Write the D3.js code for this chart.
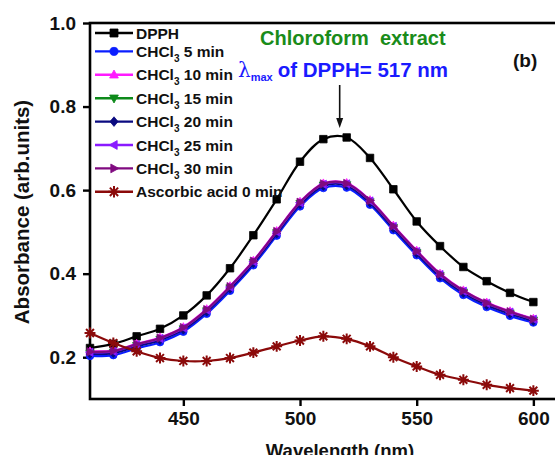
<!DOCTYPE html>
<html>
<head>
<meta charset="utf-8">
<script src="https://cdn.jsdelivr.net/npm/d3@7"></script>
<style>
  html, body { margin: 0; padding: 0; background: #fff; }
  svg { display: block; font-family: Arial, "Liberation Sans", sans-serif; }
</style>
</head>
<body>
<svg id="chart" width="555" height="466"></svg>
<script>
// Wavelengths sampled every 10 nm
const wavelengths = [410, 420, 430, 440, 450, 460, 470, 480, 490, 500,
                     510, 520, 530, 540, 550, 560, 570, 580, 590, 600];

// Absorbance series
const dpph      = [0.222, 0.232, 0.250, 0.268, 0.300, 0.348, 0.413, 0.492, 0.578, 0.668,
                   0.722, 0.726, 0.677, 0.602, 0.525, 0.466, 0.416, 0.382, 0.354, 0.332];
const chcl5     = [0.203, 0.205, 0.221, 0.236, 0.261, 0.304, 0.359, 0.420, 0.491, 0.561,
                   0.605, 0.606, 0.565, 0.504, 0.444, 0.389, 0.349, 0.320, 0.299, 0.283];
const chcl10    = [0.214, 0.216, 0.232, 0.247, 0.272, 0.315, 0.370, 0.431, 0.502, 0.572,
                   0.616, 0.617, 0.576, 0.515, 0.455, 0.400, 0.360, 0.331, 0.310, 0.292];
const chcl15    = [0.210, 0.212, 0.228, 0.243, 0.268, 0.311, 0.366, 0.427, 0.498, 0.568,
                   0.612, 0.613, 0.572, 0.511, 0.451, 0.396, 0.356, 0.327, 0.306, 0.289];
const chcl20    = [0.208, 0.210, 0.226, 0.241, 0.266, 0.309, 0.364, 0.425, 0.496, 0.566,
                   0.610, 0.611, 0.570, 0.509, 0.449, 0.394, 0.354, 0.325, 0.304, 0.287];
const chcl25    = [0.212, 0.214, 0.230, 0.245, 0.270, 0.313, 0.368, 0.429, 0.500, 0.570,
                   0.614, 0.615, 0.574, 0.513, 0.453, 0.398, 0.358, 0.329, 0.308, 0.291];
const chcl30    = [0.213, 0.215, 0.231, 0.246, 0.271, 0.314, 0.369, 0.430, 0.501, 0.571,
                   0.615, 0.616, 0.575, 0.514, 0.454, 0.399, 0.359, 0.330, 0.309, 0.291];
const ascorbic0 = [0.258, 0.234, 0.214, 0.198, 0.191, 0.191, 0.198, 0.211, 0.226, 0.240,
                   0.250, 0.244, 0.226, 0.200, 0.178, 0.158, 0.146, 0.134, 0.126, 0.120];

// Axis ticks
const xTicks = [450, 500, 550, 600];
const yTicks = [0.2, 0.4, 0.6, 0.8, 1.0];

const lambdaMax = 517;

// Series table (label parts: text before subscript, subscript, text after)
const series = [
  { pre: "DPPH", sub: "", post: "", values: dpph, color: "#000000", marker: "square" },
  { pre: "CHCl", sub: "3", post: " 5 min", values: chcl5, color: "#0a1eff", marker: "circle" },
  { pre: "CHCl", sub: "3", post: " 10 min", values: chcl10, color: "#ff1aff", marker: "triUp" },
  { pre: "CHCl", sub: "3", post: " 15 min", values: chcl15, color: "#0d8a1a", marker: "triDown" },
  { pre: "CHCl", sub: "3", post: " 20 min", values: chcl20, color: "#0a0a80", marker: "diamond" },
  { pre: "CHCl", sub: "3", post: " 25 min", values: chcl25, color: "#8a1aff", marker: "triLeft" },
  { pre: "CHCl", sub: "3", post: " 30 min", values: chcl30, color: "#800a80", marker: "triRight" },
  { pre: "Ascorbic acid 0 min", sub: "", post: "", values: ascorbic0, color: "#8b0a0a", marker: "star" }
];

const svg = d3.select("#chart");

const x = d3.scaleLinear().domain([410, 610]).range([90, 556.7]);
const y = d3.scaleLinear().domain([0.1, 1.0]).range([399, 23]);

// Marker shapes
function markerPath(type, s) {
  const h = s / 2;
  switch (type) {
    case "square":  return `M${-h},${-h}h${s}v${s}h${-s}Z`;
    case "circle":  return d3.symbol(d3.symbolCircle, s * s * 0.8)();
    case "triUp":   return `M0,${-h * 1.2}L${h * 1.1},${h * 0.8}L${-h * 1.1},${h * 0.8}Z`;
    case "triDown": return `M0,${h * 1.2}L${h * 1.1},${-h * 0.8}L${-h * 1.1},${-h * 0.8}Z`;
    case "triLeft": return `M${-h * 1.2},0L${h * 0.8},${-h * 1.1}L${h * 0.8},${h * 1.1}Z`;
    case "triRight":return `M${h * 1.2},0L${-h * 0.8},${-h * 1.1}L${-h * 0.8},${h * 1.1}Z`;
    case "diamond": return `M0,${-h * 1.2}L${h},0L0,${h * 1.2}L${-h},0Z`;
    case "star": {
      const r = h * 1.15, d = r * 0.72;
      return `M0,${-r}V${r}M${-r},0H${r}M${-d},${-d}L${d},${d}M${-d},${d}L${d},${-d}`;
    }
  }
}

function drawMarker(g, type, color, cx, cy, s) {
  const p = g.append("path")
    .attr("d", markerPath(type, s))
    .attr("transform", `translate(${cx},${cy})`);
  if (type === "star") {
    p.attr("fill", "none").attr("stroke", color).attr("stroke-width", 2);
  } else {
    p.attr("fill", color).attr("stroke", color).attr("stroke-width", 0.8);
  }
}

// Plot frame
svg.append("rect")
  .attr("x", x(410)).attr("y", y(1.0))
  .attr("width", x(610) - x(410)).attr("height", y(0.1) - y(1.0))
  .attr("fill", "none").attr("stroke", "#000").attr("stroke-width", 2.6);

// Y axis
const yAxis = svg.append("g")
  .attr("transform", `translate(${x(410)},0)`)
  .call(d3.axisLeft(y).tickValues(yTicks).tickSize(7).tickPadding(7)
        .tickFormat(d3.format(".1f")));
yAxis.select(".domain").remove();
yAxis.selectAll(".tick line").attr("stroke", "#000").attr("stroke-width", 2.4);
yAxis.selectAll(".tick text")
  .attr("font-size", "19px").attr("font-weight", "bold").attr("fill", "#111")
  .attr("font-family", "Arial, 'Liberation Sans', sans-serif");

// X axis
const xAxis = svg.append("g")
  .attr("transform", `translate(0,${y(0.1)})`)
  .call(d3.axisBottom(x).tickValues(xTicks).tickSize(7).tickPadding(6)
        .tickFormat(d3.format("d")));
xAxis.select(".domain").remove();
xAxis.selectAll(".tick line").attr("stroke", "#000").attr("stroke-width", 2.4);
xAxis.selectAll(".tick text")
  .attr("font-size", "19px").attr("font-weight", "bold").attr("fill", "#111")
  .attr("font-family", "Arial, 'Liberation Sans', sans-serif");

// Axis titles
svg.append("text")
  .attr("transform", `translate(29,212) rotate(-90)`)
  .attr("text-anchor", "middle")
  .attr("font-size", "20.5px").attr("font-weight", "bold").attr("fill", "#111")
  .text("Absorbance (arb.units)");

svg.append("clipPath").attr("id", "bottomClip")
  .append("rect").attr("x", 0).attr("y", 0).attr("width", 555).attr("height", 455);
svg.append("text")
  .attr("clip-path", "url(#bottomClip)")
  .attr("x", 340).attr("y", 456.5)
  .attr("text-anchor", "middle")
  .attr("font-size", "18.5px").attr("font-weight", "bold").attr("fill", "#111")
  .text("Wavelength (nm)");

// Curves and markers
const line = d3.line()
  .x((d, i) => x(wavelengths[i]))
  .y(d => y(d))
  .curve(d3.curveCatmullRom.alpha(0.5));

const plot = svg.append("g");
series.forEach(s => {
  plot.append("path")
    .attr("d", line(s.values))
    .attr("fill", "none")
    .attr("stroke", s.color)
    .attr("stroke-width", 2.2);
  const mg = plot.append("g");
  s.values.forEach((v, i) => drawMarker(mg, s.marker, s.color, x(wavelengths[i]), y(v),
                                       s.marker === "star" ? 9.5 : 7.5));
});

// Legend
const legend = svg.append("g");
series.forEach((s, i) => {
  const ry = 33 + i * 23.4 - (i > 0 ? 5 : 0);
  legend.append("line")
    .attr("x1", 95).attr("x2", 133).attr("y1", ry).attr("y2", ry)
    .attr("stroke", s.color).attr("stroke-width", 2.4);
  drawMarker(legend, s.marker, s.color, 114, ry, s.marker === "star" ? 10 : 8);
  const t = legend.append("text")
    .attr("x", 136).attr("y", ry + 5.5)
    .attr("font-size", "15.5px").attr("font-weight", "bold").attr("fill", "#111")
    .attr("xml:space", "preserve");
  t.append("tspan").text(s.pre);
  if (s.sub) {
    t.append("tspan").attr("font-size", "10px").attr("dy", 5).text(s.sub);
    t.append("tspan").attr("dy", -5).text(s.post);
  }
});

// Annotations
svg.append("text")
  .attr("x", 260).attr("y", 45)
  .attr("font-size", "20px").attr("font-weight", "bold").attr("fill", "#1a8c1a")
  .style("white-space", "pre")
  .text("Chloroform  extract");

const lam = svg.append("text")
  .attr("x", 238).attr("y", 77)
  .attr("font-weight", "bold").attr("fill", "#1a1aff");
lam.append("tspan").attr("font-family", "'DejaVu Serif', 'Liberation Serif', serif")
  .attr("font-weight", "normal").attr("font-size", "20px").text("λ");
lam.append("tspan").attr("font-size", "11px").attr("dy", 4).text("max");
lam.append("tspan").attr("font-size", "20.5px").attr("dy", -4).attr("dx", 5).text("of DPPH= 517 nm");

svg.append("text")
  .attr("x", 513).attr("y", 67)
  .attr("font-size", "19px").attr("font-weight", "bold").attr("fill", "#111")
  .text("(b)");

// Arrow at the absorption maximum
const ax = x(lambdaMax);
svg.append("line")
  .attr("x1", ax).attr("x2", ax).attr("y1", 85).attr("y2", 119)
  .attr("stroke", "#111").attr("stroke-width", 1.6);
svg.append("path")
  .attr("d", `M${ax - 3.5},118L${ax + 3.5},118L${ax},128Z`)
  .attr("fill", "#111");
</script>
</body>
</html>
